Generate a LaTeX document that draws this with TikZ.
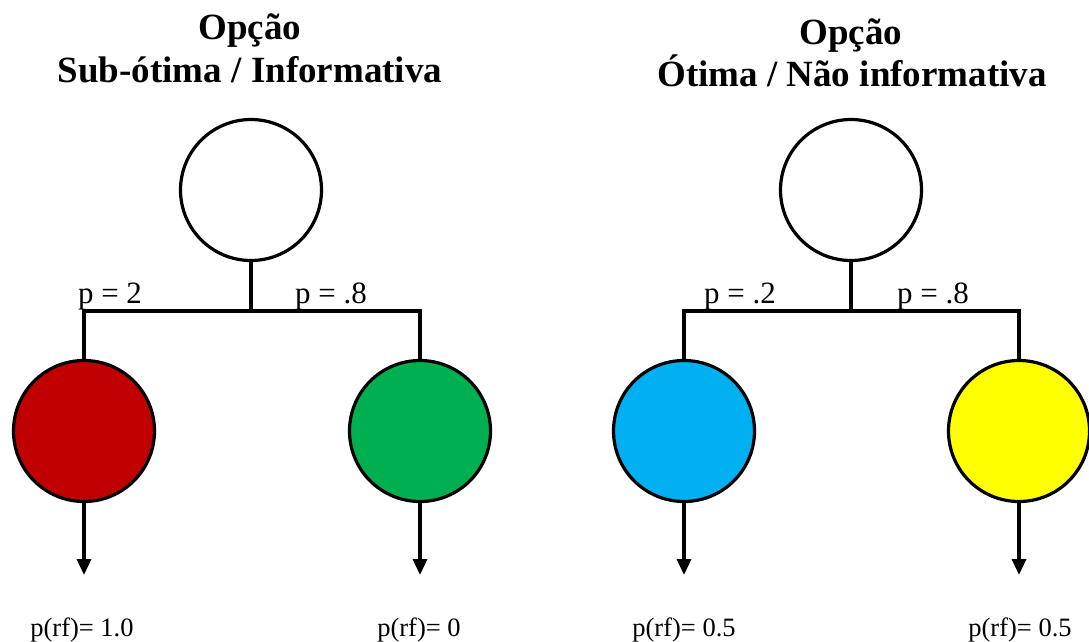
\documentclass[tikz,border=0pt]{standalone}
\usepackage{fontspec}
\setmainfont{Liberation Serif}
\usetikzlibrary{arrows.meta}
\begin{document}
\begin{tikzpicture}[x=1pt,y=-1pt,
  circ/.style={circle,draw=black,line width=3.2pt,minimum size=141pt,inner sep=0pt},
  conn/.style={line width=3.2pt},
  arr/.style={line width=3.2pt,-{Triangle[width=14pt,length=16pt]}},
  plab/.style={font=\fontsize{31}{33}\selectfont,anchor=base,inner sep=0pt},
  rlab/.style={font=\fontsize{26.5}{28}\selectfont,anchor=base,inner sep=0pt},
  ttl/.style={font=\fontsize{37}{43}\selectfont\bfseries,anchor=base,inner sep=0pt}]
\definecolor{cred}{HTML}{C00000}
\definecolor{cgreen}{HTML}{00B050}
\definecolor{cblue}{HTML}{00B0F0}
\definecolor{cyellow}{HTML}{FFFF00}
\useasboundingbox (0,0) rectangle (1089,641);

% titles
\node[ttl] (t1a) at (250,39) {Opção};
\node[ttl] (t1b) at (250,82) {Sub-ótima / Informativa};
\node[ttl] (t2a) at (851,44) {Opção};
\node[ttl] (t2b) at (852,86) {Ótima / Não informativa};

% left tree
\node[circ,fill=white] (top1) at (251,190) {};
\node[circ,fill=cred] (red) at (84,431) {};
\node[circ,fill=cgreen] (green) at (420,431) {};
\coordinate (j1) at (251,311);
\draw[conn] (top1.south) -- (j1);
\draw[conn] (red.north) |- (j1) -| (green.north);
\coordinate (e1) at (84,575);
\coordinate (e2) at (420,575);
\draw[arr] (red.south) -- (e1);
\draw[arr] (green.south) -- (e2);
\node[plab] (p1) at (110,303) {p = 2};
\node[plab] (p2) at (331,303) {p = .8};
\node[rlab] (r1) at (82,636) {p(rf)= 1.0};
\node[rlab] (r2) at (419,636) {p(rf)= 0};

% right tree
\node[circ,fill=white] (top2) at (851,190) {};
\node[circ,fill=cblue] (blue) at (684,431) {};
\node[circ,fill=cyellow] (yellow) at (1019,431) {};
\coordinate (j2) at (851,311);
\draw[conn] (top2.south) -- (j2);
\draw[conn] (blue.north) |- (j2) -| (yellow.north);
\coordinate (e3) at (684,575);
\coordinate (e4) at (1019,575);
\draw[arr] (blue.south) -- (e3);
\draw[arr] (yellow.south) -- (e4);
\node[plab] (p3) at (740,303) {p = .2};
\node[plab] (p4) at (933,303) {p = .8};
\node[rlab] (r3) at (684,636) {p(rf)= 0.5};
\node[rlab] (r4) at (1020,636) {p(rf)= 0.5};
\end{tikzpicture}
\end{document}
